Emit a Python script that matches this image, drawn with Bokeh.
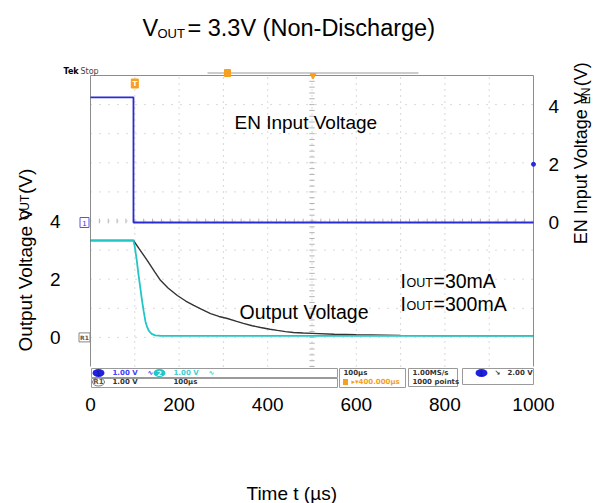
import numpy as np
from math import pi
from bokeh.plotting import figure
from bokeh.layouts import column, row
from bokeh.models import Range1d, LinearAxis, FixedTicker, Label
from bokeh.embed import file_html
from bokeh.resources import INLINE
from bokeh.core.properties import value

# ---------------- data ----------------
time_ticks = [0, 200, 400, 600, 800, 1000]      # µs
vout_ticks = [0, 2, 4]                           # V (left axis)
ven_ticks = [0, 2, 4]                            # V (right axis)

# EN input voltage (channel 1)
en_time = [0, 97, 97, 1000]
en_volt = [4.3, 4.3, 0.0, 0.0]

# Output voltage, IOUT = 300 mA (cyan)
i300_time = [0, 97, 100, 104, 108, 112, 116, 120, 124, 128, 132, 138, 146, 160, 200, 400, 600, 800, 1000]
i300_volt = [3.33, 3.33, 3.1, 2.7, 2.2, 1.75, 1.3, 0.9, 0.55, 0.35, 0.22, 0.12, 0.07, 0.05, 0.05, 0.05, 0.05, 0.05, 0.05]

# Output voltage, IOUT = 30 mA (black)
i30_time = [0, 97, 110, 128, 145, 158, 175, 196, 215, 233, 250, 271, 290, 309, 330, 345, 365, 384, 405,
            422, 440, 458, 480, 500, 550, 600, 700, 800, 1000]
i30_volt = [3.33, 3.33, 3.04, 2.65, 2.25, 1.96, 1.7, 1.44, 1.25, 1.1, 0.97, 0.82, 0.72, 0.65, 0.55, 0.48, 0.40,
            0.34, 0.28, 0.24, 0.20, 0.17, 0.15, 0.14, 0.11, 0.09, 0.07, 0.06, 0.06]

trigger_time = 97     # µs
trigger_level = 2.0   # V (EN)

FONT = "Liberation Sans"

# ---------------- layout helpers (page px -> data) ----------------
PX_PER_US, T0_PX = 0.443, 90.0
PX_PER_V, V0_PY = 29.1, 336.9


def tx(px):
    return (px - T0_PX) / PX_PER_US


def vy(py):
    return (V0_PY - py) / PX_PER_V


EN_OFF = vy(222)
# main figure occupies page x 40..565, y 50..440
MX0, MX1, MY0, MY1 = 40, 565, 50, 440
FL, FR, FT, FB = 62, 545, 60, 392   # frame edges in page px

p = figure(width=MX1 - MX0, height=MY1 - MY0, output_backend="svg", toolbar_location=None,
           x_range=Range1d(tx(FL), tx(FR)), y_range=Range1d(vy(FB), vy(FT)),
           min_border_left=FL - MX0, min_border_right=MX1 - FR,
           min_border_top=FT - MY0, min_border_bottom=MY1 - FB)
p.extra_y_ranges = {"en": Range1d(vy(FB) - EN_OFF, vy(FT) - EN_OFF)}
p.outline_line_color = None
p.xgrid.visible = False
p.ygrid.visible = False

# axes
p.xaxis.ticker = FixedTicker(ticks=time_ticks)
p.yaxis.ticker = FixedTicker(ticks=vout_ticks)
ax_r = LinearAxis(y_range_name="en", ticker=FixedTicker(ticks=ven_ticks))
p.add_layout(ax_r, "right")
for ax, so in ((p.xaxis[0], 5), (p.yaxis[0], 2), (ax_r, 3)):
    ax.axis_line_color = None
    ax.major_tick_line_color = None
    ax.minor_tick_line_color = None
    ax.major_tick_out = 0
    ax.major_tick_in = 0
    ax.minor_tick_out = 0
    ax.minor_tick_in = 0
    ax.major_label_text_font = FONT
    ax.major_label_text_font_size = "19px"
    ax.major_label_text_color = "black"
    ax.major_label_standoff = so

# ---------------- scope graticule ----------------
GRID = "#b4b4b4"
div_t = list(range(0, 1001, 100))
div_v = list(range(-1, 10))
p.segment(x0=div_t[1:-1], y0=-1, x1=div_t[1:-1], y1=9, line_color=GRID, line_dash="1 5", line_width=1)
p.segment(x0=0, y0=div_v[1:-1], x1=1000, y1=div_v[1:-1], line_color=GRID, line_dash="1 8", line_width=1)
ct = np.arange(0, 1001, 20)
p.segment(x0=ct, y0=4 - 0.08, x1=ct, y1=4 + 0.08, line_color=GRID)
cv = np.arange(-1, 9.01, 0.2)
p.segment(x0=500 - 6, y0=cv, x1=500 + 6, y1=cv, line_color=GRID)
p.segment(x0=[0, 1000, 0], y0=[-1, -1, 9], x1=[0, 1000, 1000], y1=[9, 9, 9], line_color="#8c8c8c", line_width=1)

# ---------------- traces ----------------
p.line(en_time, en_volt, y_range_name="en", line_color="#2b2bd6", line_width=1.8)
p.line(i30_time, i30_volt, line_color="#333333", line_width=1.4)
p.line(i300_time, i300_volt, line_color="#22c6c6", line_width=1.8)
p.scatter([1000], [trigger_level], y_range_name="en", size=4, color="#2b2bd6")

# ---------------- scope decorations ----------------
ORANGE = "#f5a020"
p.segment(x0=tx(207), y0=vy(72.5), x1=tx(418), y1=vy(72.5), line_color="#999999")
p.rect(x=tx(227), y=vy(72.5), width=6, height=7, width_units="screen", height_units="screen",
       fill_color=ORANGE, line_color=ORANGE)
p.scatter([tx(312.5)], [vy(75)], marker="inverted_triangle", size=6, color=ORANGE)
p.rect(x=trigger_time + 3, y=vy(83), width=7, height=9, width_units="screen", height_units="screen",
       fill_color=ORANGE, line_color=ORANGE)
p.text(x=[trigger_time + 3], y=[vy(83)], text=["T"], text_font_size="7px", text_color="white",
       text_align="center", text_baseline="middle", text_font=value("DejaVu Sans"), text_font_style="bold")

p.text(x=[tx(63)], y=[vy(75)], text=["Tek"], text_font_size="8px", text_font=value("DejaVu Sans"),
       text_font_style="bold", text_color="black")
p.text(x=[tx(80)], y=[vy(75)], text=["Stop"], text_font_size="8px", text_font=value("DejaVu Sans"),
       text_color="#444444")

# channel ground markers
p.rect(x=tx(84), y=EN_OFF, width=9, height=10, width_units="screen", height_units="screen",
       fill_color="white", line_color="#5555ee")
p.text(x=[tx(84)], y=[EN_OFF], text=["1"], text_font_size="7px", text_color="#3333dd",
       text_align="center", text_baseline="middle", text_font=value("DejaVu Sans"))
p.rect(x=tx(84), y=0, width=11, height=9, width_units="screen", height_units="screen",
       fill_color="white", line_color="#888888")
p.text(x=[tx(84)], y=[0], text=["R1"], text_font_size="6px", text_color="#555555",
       text_align="center", text_baseline="middle", text_font=value("DejaVu Sans"), text_font_style="bold")

# status bar
boxes = [(91, 337, 368, 377), (91, 337, 378, 387), (339, 405, 368, 387), (408, 457, 368, 386), (462, 533, 368, 384)]
p.quad(left=[tx(b[0]) for b in boxes], right=[tx(b[1]) for b in boxes],
       top=[vy(b[2]) for b in boxes], bottom=[vy(b[3]) for b in boxes],
       fill_color="white", line_color="#9a9a9a")
p.ellipse(x=[tx(98), tx(159), tx(481)], y=[vy(372.5)] * 3, width=12, height=8,
          width_units="screen", height_units="screen",
          fill_color=["#2020e0", "#22c6c6", "#2020e0"], line_color=None)
p.ellipse(x=[tx(98)], y=[vy(381.5)], width=12, height=8, width_units="screen", height_units="screen",
          fill_color="white", line_color="#777777")
p.rect(x=tx(345), y=vy(381.5), width=5, height=6, width_units="screen", height_units="screen",
       fill_color=ORANGE, line_color=None)
st_px = [98, 159, 481, 98, 112, 147, 173, 208, 112, 173, 343, 351, 412, 412, 494, 507]
st_py = [372.5, 372.5, 372.5, 381.5, 372.5, 372.5, 372.5, 372.5, 381.5, 381.5, 372.5, 381.5, 372.5, 381.5, 372.5, 372.5]
st_tx = ["1", "2", "1", "R1", "1.00 V", "\u223f", "1.00 V", "\u223f", "1.00 V", "100\u00b5s", "100\u00b5s",
         "\u25b8\u25be400.000\u00b5s", "1.00MS/s", "1000 points", "\u2198", "2.00 V"]
st_col = ["#1818a0", "white", "#1818a0", "#555555", "#4040ff", "#4040ff", "#40d0d0", "#40d0d0",
          "#333333", "#333333", "#333333", ORANGE, "#333333", "#333333", "#333333", "#333333"]
st_al = ["center"] * 4 + ["left"] * 12
p.text(x=[tx(v) for v in st_px], y=[vy(v) for v in st_py], text=st_tx, text_color=st_col,
       text_align=st_al, text_baseline="middle", text_font_size="7px",
       text_font=value("DejaVu Sans"), text_font_style="bold")


def lab(fig, x, y, text, size):
    fig.add_layout(Label(x=x, y=y, text=text, text_font=FONT, text_font_size=f"{size}px",
                         text_color="black", text_align="left", text_baseline="alphabetic"))


def vlab(fig, x, y, text, size):
    # rotated text, anchored at its centre
    fig.add_layout(Label(x=x, y=y, text=text, text_font=FONT, text_font_size=f"{size}px",
                         text_color="black", angle=pi / 2, text_align="center", text_baseline="middle"))


# in-plot annotations (page px converted to data coords)
def mlab(px, py, text, size):
    lab(p, tx(px), vy(py), text, size)


mlab(234, 121.5, "EN Input Voltage", 19)
mlab(239, 311, "Output Voltage", 19.5)
mlab(400, 280, "I", 19.5)
mlab(406, 282, "OUT", 12.5)
mlab(433, 280, "=30mA", 19.5)
mlab(400, 303, "I", 19.5)
mlab(406, 305, "OUT", 12.5)
mlab(433, 303, "=300mA", 19.5)


# ---------------- text-only panels (coordinates = page px) ----------------
def text_fig(x0, x1, y0, y1):
    f = figure(width=x1 - x0, height=y1 - y0, x_range=Range1d(x0, x1), y_range=Range1d(y1, y0),
               output_backend="svg", toolbar_location=None, x_axis_type=None, y_axis_type=None,
               min_border=0)
    f.outline_line_color = None
    return f


title_fig = text_fig(0, 600, 0, MY0)
lab(title_fig, 142, 27.5, "V", 23.5)
lab(title_fig, 157, 33, "OUT", 13)
lab(title_fig, 187, 27.5, "= 3.3V (Non-Discharge)", 23.5)

left_fig = text_fig(0, MX0, MY0, MY1)
vlab(left_fig, 25, 307.6, "Output Voltage V", 19)
vlab(left_fig, 24, 222.6, "OUT", 12)
vlab(left_fig, 25, 192.0, "(V)", 19)

right_fig = text_fig(MX1, 600, MY0, MY1)
vlab(right_fig, 580, 176.5, "EN Input Voltage V", 18)
vlab(right_fig, 585, 91.6, "EN", 12)
vlab(right_fig, 580, 66.2, "(V)", 18)

bottom_fig = text_fig(0, 600, MY1, 503)
lab(bottom_fig, 246, 493, "Time t (\u00b5s)", 19)

layout = column(title_fig, row(left_fig, p, right_fig), bottom_fig)
open("out.html", "w").write(file_html(layout, INLINE))
